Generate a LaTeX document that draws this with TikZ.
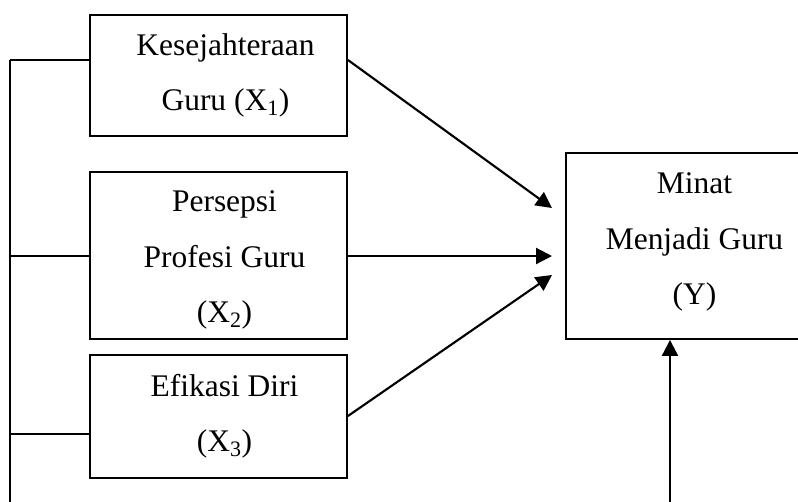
\documentclass[tikz,border=0pt]{standalone}
\usepackage{fontspec}
\setmainfont{Liberation Serif}
\usetikzlibrary{arrows.meta,calc}
\begin{document}
\begin{tikzpicture}[x=0.75pt,y=-0.75pt,
  box/.style={draw,line width=1.4pt,minimum width=192.75pt,inner sep=0pt},
  txt/.style={inner sep=0pt,align=center,font=\fontsize{23.6}{41.6}\selectfont},
  ln/.style={line width=1.4pt},
  arr/.style={line width=1.6pt,-{Triangle[length=12pt,width=12pt]}}]
\useasboundingbox (0,0) rectangle (798,501);
\clip (0,0) rectangle (798,501);
\node[box,minimum height=90.75pt] (X1) at (218.5,75.5) {};
\node[box,minimum height=125.25pt] (X2) at (218.5,255.5) {};
\node[box,minimum height=92.25pt] (X3) at (218.5,416.5) {};
\node[box,minimum height=139.5pt] (Y) at (694.5,246) {};
\node[txt] (X1t) at ($(X1.center)+(7,0)$) {Kesejahteraan\\Guru (X\textsubscript{1})};
\node[txt] (X2t) at ($(X2.center)+(6,4.5)$) {Persepsi\\Profesi Guru\\(X\textsubscript{2})};
\node[txt] (X3t) at ($(X3.center)+(6,-0.5)$) {Efikasi Diri\\(X\textsubscript{3})};
\node[txt] (Yt) at ($(Y.center)+(0,-4)$) {Minat\\Menjadi Guru\\(Y)};
% left trunk
\coordinate (top) at (10,60);
\coordinate (b2) at (10,256);
\coordinate (b3) at (10,434);
\coordinate (bot) at (10,510);
\draw[ln] (top) -- (bot);
\draw[ln] (top) -- (top -| X1.west);
\draw[ln] (b2) -- (b2 -| X2.west);
\draw[ln] (b3) -- (b3 -| X3.west);
% arrows
\coordinate (s1) at (X1.east |- top);
\coordinate (s2) at (X2.east |- b2);
\coordinate (s3) at ($(X3.east)+(0,-0.5)$);
\coordinate (t1) at (552,208);
\coordinate (t2) at (552,256);
\coordinate (t3) at (552,275);
\draw[arr] (s1) -- (t1);
\draw[arr] (s2) -- (t2);
\draw[arr] (s3) -- (t3);
\coordinate (yb) at (670,510);
\draw[arr] (yb) -- (yb |- Y.south);
\end{tikzpicture}
\end{document}
